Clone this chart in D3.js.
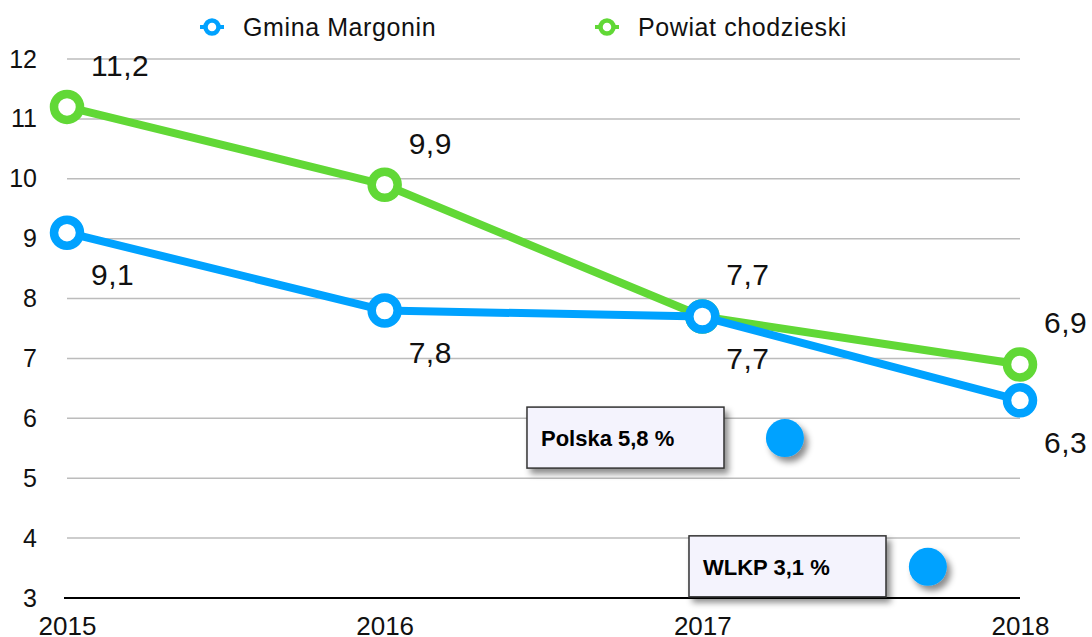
<!DOCTYPE html>
<html>
<head>
<meta charset="utf-8">
<script src="https://cdn.jsdelivr.net/npm/d3@7"></script>
<style>
  body { margin: 0; background: #fff; }
  svg { display: block; font-family: "Liberation Sans", Arial, Helvetica, sans-serif; }
</style>
</head>
<body>
<svg id="chart" width="1092" height="637"></svg>
<script>
const years = [2015, 2016, 2017, 2018];
const gmina = [9.1, 7.8, 7.7, 6.3];
const powiat = [11.2, 9.9, 7.7, 6.9];
const yTicks = [3, 4, 5, 6, 7, 8, 9, 10, 11, 12];
const seriesNames = ['Gmina Margonin', 'Powiat chodzieski'];
// annotation boxes: label, dot position and box left edge (year / value units)
const notes = [
  { label: 'Polska 5,8 %', x: 2017.26, y: 5.67, boxX: 2016.448 },
  { label: 'WLKP 3,1 %', x: 2017.71, y: 3.52, boxX: 2016.958 }
];

const blue = '#00a2ff';
const green = '#61d836';

const svg = d3.select('#chart');

const x = d3.scaleLinear().domain([2015, 2018]).range([67, 1020]);
const y = d3.scaleLinear().domain([3, 12]).range([598, 59]);

const defs = svg.append('defs');
const shadow = defs.append('filter').attr('id', 'shadow')
  .attr('x', '-30%').attr('y', '-30%').attr('width', '170%').attr('height', '180%');
shadow.append('feDropShadow')
  .attr('dx', 4).attr('dy', 5).attr('stdDeviation', 3)
  .attr('flood-color', '#000').attr('flood-opacity', 0.45);

// grid
svg.append('g')
  .selectAll('line')
  .data(yTicks.filter(d => d > 3))
  .enter()
  .append('line')
  .attr('x1', x(2015)).attr('x2', x(2018))
  .attr('y1', d => y(d)).attr('y2', d => y(d))
  .attr('stroke', '#bcbcbc')
  .attr('stroke-width', 1.5);

// y axis labels
const yAxis = svg.append('g')
  .attr('transform', `translate(${x(2015) - 30},0)`)
  .call(d3.axisLeft(y).tickValues(yTicks).tickSize(0).tickPadding(0).tickFormat(d3.format('d')));
yAxis.select('.domain').remove();
yAxis.selectAll('text')
  .attr('font-size', 25)
  .attr('font-family', null)
  .attr('fill', '#111');

// x axis
const xAxis = svg.append('g')
  .attr('transform', `translate(0,${y(3)})`)
  .call(d3.axisBottom(x).tickValues(years).tickSize(0).tickPadding(0).tickFormat(d3.format('d')));
xAxis.select('.domain')
  .attr('d', `M${x(2015) - 3},0H${x(2018)}`)
  .attr('stroke', '#000')
  .attr('stroke-width', 2);
xAxis.selectAll('text')
  .attr('y', 37)
  .attr('dy', null)
  .attr('font-size', 26)
  .attr('font-family', null)
  .attr('fill', '#111');

// annotation boxes
const note = svg.append('g')
  .selectAll('g')
  .data(notes)
  .enter()
  .append('g');

note.append('rect')
  .attr('x', d => x(d.boxX))
  .attr('y', d => y(d.y) - 31)
  .attr('width', 197)
  .attr('height', 61)
  .attr('fill', '#f4f3fd')
  .attr('stroke', '#333')
  .attr('stroke-width', 1.5)
  .attr('filter', 'url(#shadow)');

note.append('text')
  .attr('x', d => x(d.boxX) + 14)
  .attr('y', d => y(d.y))
  .attr('dy', '0.36em')
  .attr('font-size', 22)
  .attr('font-weight', 'bold')
  .attr('fill', '#000')
  .text(d => d.label);

note.append('circle')
  .attr('cx', d => x(d.x))
  .attr('cy', d => y(d.y))
  .attr('r', 19)
  .attr('fill', blue)
  .attr('filter', 'url(#shadow)');

const line = d3.line()
  .x((d, i) => x(years[i]))
  .y(d => y(d));

const series = [
  { name: seriesNames[1], values: powiat, color: green, dy: -42 },
  { name: seriesNames[0], values: gmina, color: blue, dy: 42 }
];

series.forEach(s => {
  const g = svg.append('g');
  g.append('path')
    .datum(s.values)
    .attr('fill', 'none')
    .attr('stroke', s.color)
    .attr('stroke-width', 8)
    .attr('stroke-linejoin', 'round')
    .attr('d', line);

  g.selectAll('circle')
    .data(s.values)
    .enter()
    .append('circle')
    .attr('cx', (d, i) => x(years[i]))
    .attr('cy', d => y(d))
    .attr('r', 13)
    .attr('fill', '#fff')
    .attr('stroke', s.color)
    .attr('stroke-width', 8.5);

  g.selectAll('text')
    .data(s.values)
    .enter()
    .append('text')
    .attr('x', (d, i) => x(years[i]) + 24)
    .attr('y', d => y(d) + s.dy)
    .attr('dy', '0.36em')
    .attr('font-size', 30)
    .attr('letter-spacing', 0.5)
    .attr('fill', '#111')
    .text(d => d3.format('.1f')(d).replace('.', ','));
});

// legend
const legend = svg.append('g')
  .selectAll('g')
  .data([
    { name: seriesNames[0], color: blue, x: 212 },
    { name: seriesNames[1], color: green, x: 607 }
  ])
  .enter()
  .append('g')
  .attr('transform', d => `translate(${d.x},27)`);

legend.append('line')
  .attr('x1', -12).attr('x2', 12)
  .attr('stroke', d => d.color)
  .attr('stroke-width', 4);
legend.append('circle')
  .attr('r', 6.5)
  .attr('fill', '#fff')
  .attr('stroke', d => d.color)
  .attr('stroke-width', 4.5);
legend.append('text')
  .attr('x', 31)
  .attr('dy', '0.36em')
  .attr('font-size', 25)
  .attr('letter-spacing', 0.6)
  .attr('fill', '#111')
  .text(d => d.name);
</script>
</body>
</html>
